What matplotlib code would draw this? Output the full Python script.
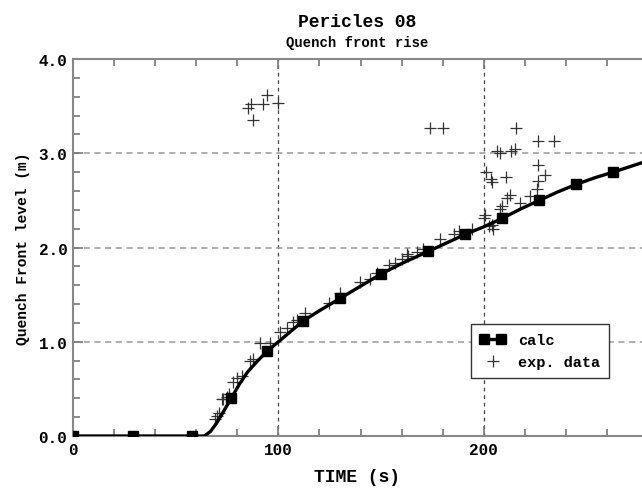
import numpy as np
import matplotlib
matplotlib.use('Agg')
import matplotlib.pyplot as plt
from matplotlib.ticker import MultipleLocator, FormatStrFormatter
from matplotlib.legend_handler import HandlerLine2D

font = {'family': 'Liberation Mono',
        'weight': 'bold',
        'size': 11}
matplotlib.rc('font', **font)
matplotlib.rc('axes', labelweight='bold')

## calculated quench front (line through the curve, squares at calc outputs)
calc_t = [0, 29, 58, 64, 67, 70, 73, 77, 81, 85, 90, 94.5, 100, 106, 112, 120,
          130, 140, 150, 160, 173, 182, 191, 200, 209, 218, 227, 236, 245, 254,
          263, 277]
calc_h = [0.0, 0.0, 0.0, 0.0, 0.05, 0.14, 0.25, 0.40, 0.55, 0.68, 0.80, 0.90,
          1.00, 1.11, 1.22, 1.33, 1.46, 1.59, 1.72, 1.83, 1.96, 2.05, 2.14, 2.22,
          2.31, 2.41, 2.50, 2.59, 2.67, 2.74, 2.80, 2.90]
calc_marks = [0, 1, 2, 7, 11, 14, 16, 18, 20, 22, 24, 26, 28, 30]

## experimental data
exp_t = [69, 70, 71.3, 72.4, 73.2, 75, 76, 78, 80, 82.2, 86.2, 87.8, 91, 96,
         100.8, 104, 107.3, 109, 113, 124.4, 130, 139.8, 144.7, 148, 153.6,
         156.8, 160, 162.5, 163.3, 167.4, 170.6, 178.8, 185.3, 187.7, 194.2,
         199.9, 200.7, 202.3, 204, 204.4, 208, 208.8, 211.2, 212.9, 217.4,
         222.6, 225.9, 226.6, 230, 226.6, 201.2, 203.5, 204, 211,
         206.4, 208, 213.2, 215.3, 215.8, 226.6, 234.3, 174, 180,
         85, 86.5, 87.5, 92.5, 94.5, 100]
exp_h = [0.18, 0.21, 0.24, 0.39, 0.39, 0.41, 0.45, 0.57, 0.62, 0.64, 0.80, 0.82,
         0.99, 0.99, 1.10, 1.15, 1.21, 1.23, 1.30, 1.41, 1.52, 1.63, 1.67, 1.73,
         1.81, 1.84, 1.88, 1.93, 1.91, 1.95, 1.98, 2.09, 2.14, 2.18, 2.20,
         2.31, 2.34, 2.23, 2.24, 2.20, 2.41, 2.44, 2.53, 2.56, 2.47,
         2.55, 2.62, 2.71, 2.77, 2.88, 2.80, 2.73, 2.70, 2.75,
         3.02, 3.00, 3.02, 3.05, 3.27, 3.13, 3.13, 3.27, 3.27,
         3.48, 3.52, 3.35, 3.52, 3.62, 3.53]

fig = plt.figure(figsize=(6.42, 4.89), dpi=100)
ax = fig.add_axes([0.1137, 0.1063, 0.8863, 0.771])

calc_line, = ax.plot(calc_t, calc_h, color='black', lw=2.4, marker='s', ms=7,
                     markevery=calc_marks, label='calc', zorder=3)
exp_line, = ax.plot(exp_t, exp_h, ls='none', marker='+', ms=8, mew=0.9,
                    color='#333333', label='exp. data', zorder=2)

ax.set_xlim((0, 277))
ax.set_ylim((0, 4.0))
ax.xaxis.set_major_locator(MultipleLocator(100))
ax.xaxis.set_minor_locator(MultipleLocator(20))
ax.yaxis.set_major_locator(MultipleLocator(1.0))
ax.yaxis.set_minor_locator(MultipleLocator(0.2))
ax.yaxis.set_major_formatter(FormatStrFormatter('%.1f'))
ax.tick_params(which='both', direction='in', top=True, right=False,
               color='#777777', width=1.2)
ax.tick_params(which='major', length=7, labelsize=11.5, pad=4)
ax.tick_params(which='minor', length=5)

for x in (100, 200):
    ax.axvline(x, color='#444444', ls=(0, (3, 3)), lw=0.9, zorder=1)
for y in (1.0, 2.0, 3.0):
    ax.axhline(y, color='#999999', ls=(0, (4, 3)), lw=1.1, zorder=1)

for spine in ('left', 'bottom', 'top'):
    ax.spines[spine].set_color('#888888')
    ax.spines[spine].set_linewidth(1.5)
ax.spines['right'].set_visible(False)

ax.set_xlabel('TIME (s)', fontsize=13, labelpad=8)
ax.set_ylabel('Quench Front level (m)', fontsize=10.5, labelpad=6)
fig.text(0.557, 0.955, 'Pericles 08', ha='center', va='center', fontsize=13)
fig.text(0.557, 0.912, 'Quench front rise', ha='center', va='center', fontsize=10)

leg = ax.legend(loc='lower right', bbox_to_anchor=(0.956, 0.133),
                handler_map={calc_line: HandlerLine2D(numpoints=2),
                             exp_line: HandlerLine2D(numpoints=1)},
                fancybox=False, framealpha=1, edgecolor='#333333',
                handlelength=1.7, fontsize=11, borderpad=0.6, labelspacing=0.5)
leg.get_frame().set_linewidth(1.0)

fig.savefig('out.png', dpi=100)
plt.close()
